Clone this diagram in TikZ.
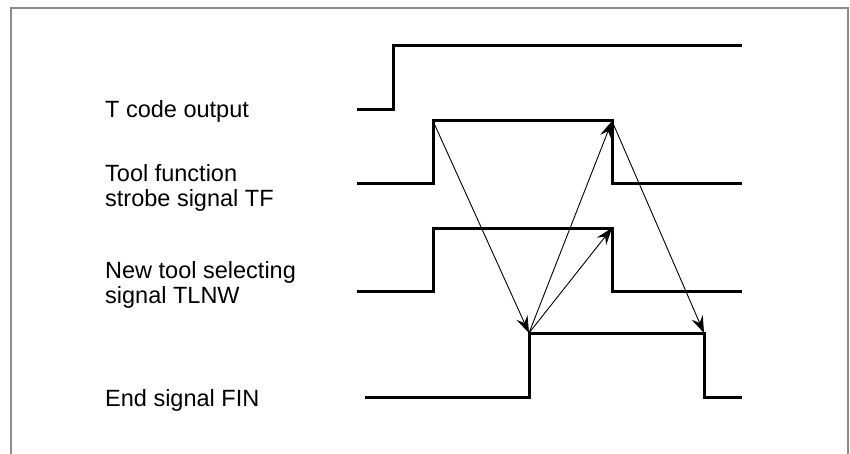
\documentclass[tikz,border=0pt]{standalone}
\usepackage{fontspec}
\setmainfont{Liberation Sans}
\usepackage{tikz}
\usetikzlibrary{arrows.meta, positioning, calc}
\usepackage{xcolor}
\definecolor{framegray}{RGB}{140,140,140}

\tikzset{
  signal/.style={line width=3pt, line cap=rect},
  cause/.style={line width=0.9pt, -{Stealth[length=17pt, width=12pt, inset=6pt]}},
  label/.style={anchor=base west, inner sep=0pt, align=left,
                font=\fontsize{23.5}{25}\selectfont},
}

\begin{document}
\begin{tikzpicture}[x=1pt, y=-1pt]
    \useasboundingbox (0,0) rectangle (850,454);
    % open frame
    \draw[framegray, line width=2pt] (11,454) -- (11,8) -- (848,8) -- (848,454);

    % labels (base = last line)
    \node[label] (tcode) at (105,118) {T code output};
    \node[label] (tf)    at (105,207) {Tool function\\strobe signal TF};
    \node[label] (tlnw)  at (105,303) {New tool selecting\\signal TLNW};
    \node[label] (fin)   at (105,406) {End signal FIN};

    % edges used by the arrows
    \coordinate (tf-up)     at (433,121);
    \coordinate (tf-down)   at (612,121);
    \coordinate (tlnw-down) at (612,228);
    \coordinate (fin-up)    at (529,333);
    \coordinate (fin-down)  at (704,333);

    % waveforms
    \draw[signal] (358,110) -- (393,110) -- (393,46) -- (740,46);
    \draw[signal] (358,184) -- (433,184) -- (tf-up) -- (tf-down)
      -- (612,184) -- (740,184);
    \draw[signal] (358,291) -- (433,291) -- (433,228) -- (tlnw-down)
      -- (612,291) -- (740,291);
    \draw[signal] (366,397) -- (529,397) -- (fin-up) -- (fin-down)
      -- (704,397) -- (740,397);

    % handshake
    \draw[cause] (tf-up) -- (fin-up);
    \draw[cause] (fin-up) -- (tf-down);
    \draw[cause] (fin-up) -- (tlnw-down);
    \draw[cause] (tf-down) -- (fin-down);
  \end{tikzpicture}
\end{document}
